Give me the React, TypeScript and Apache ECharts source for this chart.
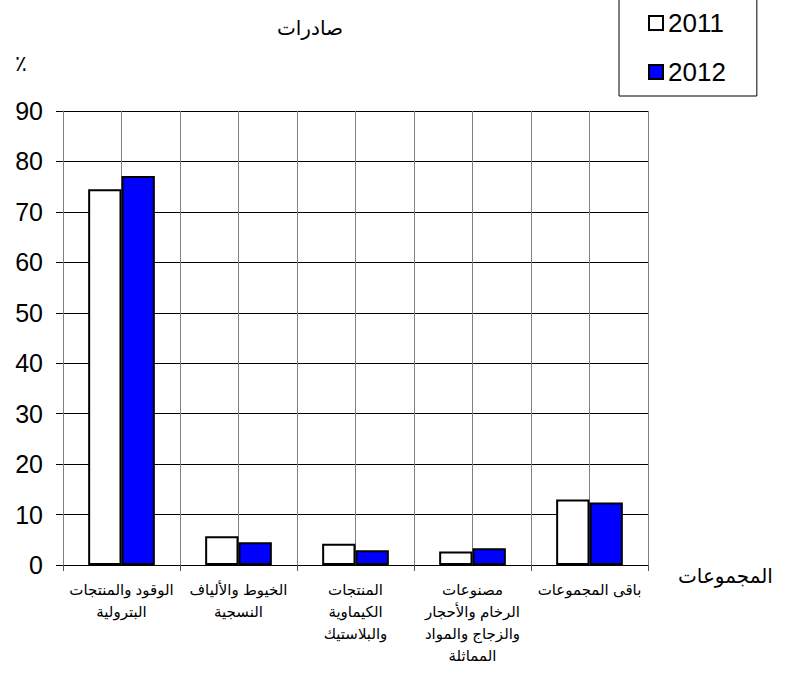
import React, { useEffect, useRef } from "react";
import * as echarts from "echarts";

const categories = [
  "الوقود والمنتجات\nالبترولية",
  "الخيوط والألياف\nالنسجية",
  "المنتجات\nالكيماوية\nوالبلاستيك",
  "مصنوعات\nالرخام والأحجار\nوالزجاج والمواد\nالمماثلة",
  "باقى المجموعات",
];
const values2011 = [74.5, 5.7, 4.2, 2.7, 13.0];
const values2012 = [77.1, 4.5, 2.9, 3.3, 12.4];
const yTicks = { min: 0, max: 90, interval: 10 };
const halfSlots = ["", "", "", "", "", "", "", "", "", ""];

const FONT = "Arial, 'Liberation Sans', 'DejaVu Sans', sans-serif";

export default function App() {
  const ref = useRef<HTMLDivElement>(null);
  useEffect(() => {
    if (!ref.current) return;
    const chart = echarts.init(ref.current, null, { renderer: "svg" });
    chart.setOption({
      animation: false,
      backgroundColor: "#fff",
      textStyle: { fontFamily: FONT, color: "#000" },
      title: {
        text: "صادرات",
        left: 305,
        top: 13,
        textAlign: "center",
        textStyle: { fontSize: 20, fontWeight: "normal", color: "#000", fontFamily: FONT },
      },
      legend: {
        orient: "vertical",
        left: 619,
        top: -1,
        itemWidth: 14,
        itemHeight: 14,
        itemGap: 23,
        padding: [11, 31, 11, 29],
        borderColor: "#000",
        borderWidth: 1,
        icon: "rect",
        textStyle: { fontSize: 26, lineHeight: 26, color: "#000", fontFamily: FONT, padding: [0, 0, 0, 0] },
        data: [
          { name: "2011", itemStyle: { color: "#fff", borderColor: "#000", borderWidth: 2 } },
          { name: "2012", itemStyle: { color: "#0000ff", borderColor: "#000", borderWidth: 2 } },
        ],
      },
      grid: { left: 63, right: 153, top: 111, bottom: 109, containLabel: false },
      xAxis: [
        {
          type: "category",
          data: categories,
          axisLine: { show: true, lineStyle: { color: "#000", width: 1 } },
          axisTick: { show: true, length: 6, lineStyle: { color: "#555" } },
          splitLine: { show: false },
          axisLabel: {
            interval: 0,
            fontSize: 15,
            color: "#000",
            lineHeight: 22,
            margin: 13,
            fontFamily: FONT,
          },
        },
        {
          type: "category",
          data: halfSlots,
          position: "bottom",
          axisLine: { show: false },
          axisTick: { show: false },
          axisLabel: { show: false },
          splitLine: { show: true, interval: 0, lineStyle: { color: "#808080", width: 1 } },
        },
      ],
      yAxis: {
        type: "value",
        min: yTicks.min,
        max: yTicks.max,
        interval: yTicks.interval,
        axisLine: { show: true, lineStyle: { color: "#808080" } },
        axisTick: { show: true, length: 7, lineStyle: { color: "#000" } },
        splitLine: { show: true, lineStyle: { color: "#000", width: 1 } },
        axisLabel: { fontSize: 25, color: "#000", margin: 20, fontFamily: FONT },
      },
      graphic: [
        {
          type: "text",
          left: 15,
          top: 52,
          style: { text: "٪", fontSize: 22, fill: "#000", fontFamily: FONT },
        },
        {
          type: "text",
          left: 678,
          top: 566,
          style: { text: "المجموعات", fontSize: 20, fill: "#000", fontFamily: FONT },
        },
      ],
      series: [
        {
          name: "2011",
          type: "bar",
          data: values2011,
          barGap: "0%",
          barCategoryGap: "43%",
          itemStyle: { color: "#fff", borderColor: "#000", borderWidth: 2 },
        },
        {
          name: "2012",
          type: "bar",
          data: values2012,
          itemStyle: { color: "#0000ff", borderColor: "#000", borderWidth: 2 },
        },
      ],
    });
    return () => chart.dispose();
  }, []);
  return <div ref={ref} style={{ width: 801, height: 674, position: "absolute", left: 0, top: 0 }} />;
}
